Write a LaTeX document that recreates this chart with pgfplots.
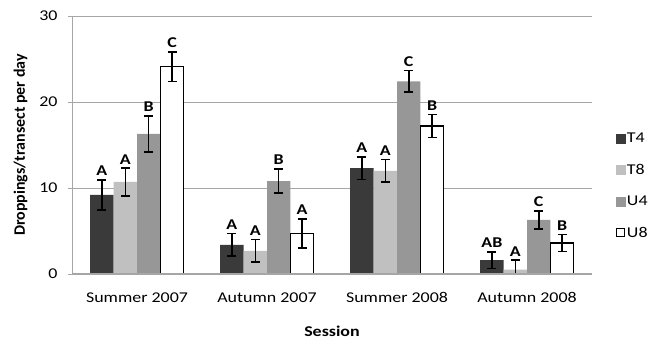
\documentclass[border=0pt]{standalone}
\usepackage{pgfplots}
\pgfplotsset{compat=1.18}
\usepackage{fontspec}
\setmainfont{Carlito}[FakeStretch=1.2]
\newfontfamily\ylfont{Carlito}
\definecolor{cT4}{HTML}{3A3A3A}
\definecolor{cT8}{HTML}{C0C0C0}
\definecolor{cU4}{HTML}{979797}
\definecolor{gridc}{HTML}{A6A6A6}
\pgfplotsset{
  mybar/.style={ybar, bar width=0.18, bar shift=0pt, forget plot,
    error bars/y dir=both, error bars/y explicit,
    error bars/error bar style={draw=black, solid, line width=1.6pt},
    error bars/error mark=|,
    error bars/error mark options={draw=black, solid, mark size=4.5bp, line width=1.6pt}},
  mylab/.style={only marks, mark=none, forget plot, nodes near coords,
    point meta=explicit symbolic,
    nodes near coords style={font=\fontsize{15}{17}\selectfont\bfseries, anchor=south, yshift=2bp, inner sep=2bp}},
}
\begin{document}
\begin{tikzpicture}
\useasboundingbox (0,0) rectangle (652bp,345bp);
\begin{axis}[
  at={(72bp,71bp)}, anchor=south west,
  scale only axis, width=520bp, height=258bp,
  xmin=-0.5, xmax=3.5, ymin=0, ymax=30,
  ytick={0,10,20,30},
  xtick={0,1,2,3},
  xticklabels={Summer 2007, Autumn 2007, Summer 2008, Autumn 2008},
  x tick style={draw=none},
  y tick style={gridc, line width=0.8pt},
  tick align=outside, major tick length=4bp,
  ymajorgrids, grid style={gridc, line width=0.8pt},
  axis x line*=bottom, axis y line*=left,
  axis line style={gridc, line width=0.8pt, -},
  tick label style={font=\fontsize{15}{17}\selectfont},
  /pgf/number format/assume math mode=true,
  xticklabel style={yshift=-11bp},
  yticklabel style={xshift=-7bp},
  xlabel={\bfseries Session},
  ylabel={\ylfont\fontsize{16}{18}\selectfont\bfseries Droppings/transect per day},
  label style={font=\fontsize{15}{17}\selectfont},
  xlabel style={yshift=-16bp},
  ylabel style={yshift=5bp},
  legend style={at={(1.045,0.555)}, anchor=north west, draw=none, fill=none,
    font=\fontsize{15}{17}\selectfont, row sep=16bp, inner sep=0pt},
  legend cell align=left,
  clip=false,
]
\addlegendimage{legend image code/.code={\fill[cT4] (0bp,-4.5bp) rectangle (9bp,4.5bp);}}
\addlegendentry{T4}
\addlegendimage{legend image code/.code={\fill[cT8] (0bp,-4.5bp) rectangle (9bp,4.5bp);}}
\addlegendentry{T8}
\addlegendimage{legend image code/.code={\fill[cU4] (0bp,-4.5bp) rectangle (9bp,4.5bp);}}
\addlegendentry{U4}
\addlegendimage{legend image code/.code={\draw[black, line width=1pt, fill=white] (0.5bp,-4bp) rectangle (8.5bp,4bp);}}
\addlegendentry{U8}

\addplot[mybar, fill=cT4, draw=none] coordinates {
 (-0.27,9.2) +- (0,1.75) (0.73,3.4) +- (0,1.3) (1.73,12.3) +- (0,1.3) (2.73,1.6) +- (0,0.95)};
\addplot[mybar, fill=cT8, draw=none] coordinates {
 (-0.09,10.7) +- (0,1.6) (0.91,2.7) +- (0,1.3) (1.91,12.0) +- (0,1.3) (2.91,0.5) += (0,1.1) -= (0,0.5)};
\addplot[mybar, fill=cU4, draw=none] coordinates {
 (0.09,16.3) +- (0,2.1) (1.09,10.8) +- (0,1.4) (2.09,22.4) +- (0,1.25) (3.09,6.3) +- (0,1.05)};
\addplot[mybar, fill=white, draw=black, line width=1.2pt] coordinates {
 (0.27,24.1) +- (0,1.7) (1.27,4.7) +- (0,1.7) (2.27,17.2) +- (0,1.35) (3.27,3.6) +- (0,1.0)};
% gray baseline over the bars' bottom edges
\addplot[gridc, line width=1.5pt, forget plot] coordinates {(-0.5,0) (3.5,0)};

\addplot[mylab] coordinates {
 (-0.27,10.95) [A] (-0.09,12.3) [A] (0.09,18.4) [B] (0.27,25.8) [C]
 (0.73,4.7) [A] (0.91,4.0) [A] (1.09,12.2) [B] (1.27,6.4) [A]
 (1.73,13.6) [A] (1.91,13.3) [A] (2.09,23.65) [C] (2.27,18.55) [B]
 (2.73,2.55) [AB] (2.91,1.6) [A] (3.09,7.35) [C] (3.27,4.6) [B]};
\end{axis}
\end{tikzpicture}
\end{document}
